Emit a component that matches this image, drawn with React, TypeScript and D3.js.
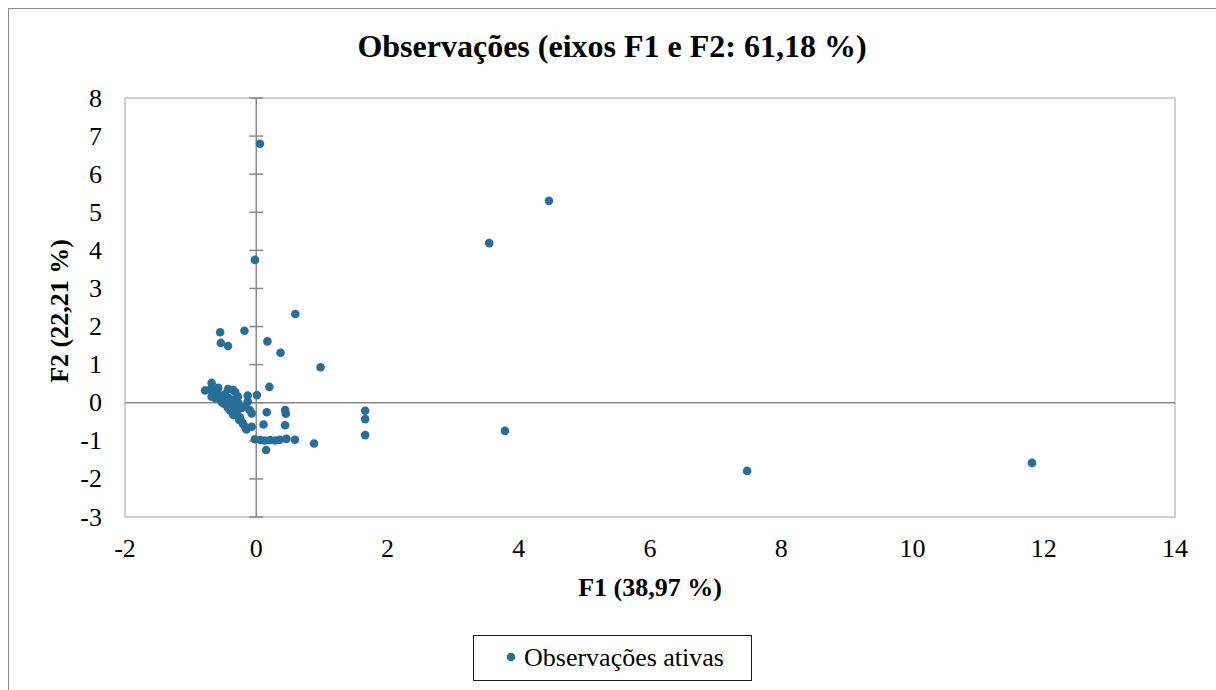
import React, { useEffect, useRef } from "react";
import * as d3 from "d3";

// F1 / F2 coordinates of the active observations
const f1 = [
  11.82, 7.48, 4.46, 3.55, 3.79, 1.66, 1.66, 1.66, 0.88, 0.98, 0.595, 0.37, 0.17, -0.18, -0.55, -0.54, -0.43, 0.057, -0.02, 0.2,
  0.16, 0.44, 0.45, 0.11, 0.44, 0.15,
  -0.02, 0.06, 0.13, 0.21, 0.29, 0.36, 0.46, 0.59,
  -0.78, -0.68, -0.63, -0.58, -0.48, -0.43, -0.35, -0.32, -0.28, -0.13, 0.01, -0.68, -0.6, -0.55, -0.53, -0.5, -0.45, -0.43,
  -0.4, -0.37, -0.35, -0.32, -0.3, -0.22, -0.13, -0.1, -0.07, -0.17, -0.22, -0.2, -0.17, -0.15, -0.07, -0.26, -0.7, -0.62,
  -0.57, -0.47, -0.42, -0.38, -0.27, -0.25,
];
const f2 = [
  -1.58, -1.79, 5.3, 4.19, -0.74, -0.21, -0.43, -0.85, -1.07, 0.93, 2.33, 1.31, 1.61, 1.89, 1.85, 1.57, 1.49, 6.8, 3.75, 0.415,
  -0.25, -0.19, -0.29, -0.57, -0.59, -1.24,
  -0.96, -0.98, -0.99, -0.98, -0.99, -0.97, -0.95, -0.97,
  0.32, 0.52, 0.3, 0.39, 0.22, 0.36, 0.33, 0.28, 0.16, 0.19, 0.2, 0.16, 0.25, 0.1, 0.03, -0.02, -0.08, -0.14,
  -0.2, 0.07, -0.32, -0.06, -0.25, -0.14, 0.03, -0.19, -0.28, -0.1, -0.5, -0.56, -0.63, -0.7, -0.63, -0.45, 0.35, 0.12,
  0.2, 0.05, 0.12, -0.1, -0.02, -0.38,
];
const xTicks = [-2, 0, 2, 4, 6, 8, 10, 12, 14];
const yTicks = [-3, -2, -1, 0, 1, 2, 3, 4, 5, 6, 7, 8];

const title = "Observações (eixos F1 e F2: 61,18 %)";
const xTitle = "F1 (38,97 %)";
const yTitle = "F2 (22,21 %)";
const seriesName = "Observações ativas";

const W = 1216;
const H = 690;
const dotColor = "#276f98";
const font = "'Liberation Serif', 'Times New Roman', serif";

const App = () => {
  const ref = useRef<SVGSVGElement>(null);

  useEffect(() => {
    if (!ref.current) return;
    const svg = d3.select(ref.current);
    svg.selectAll("*").remove();

    const left = 125, right = 1175, top = 98, bottom = 517;
    const x = d3.scaleLinear().domain([-2, 14]).range([left, right]);
    const y = d3.scaleLinear().domain([-3, 8]).range([bottom, top]);

    svg.append("rect").attr("width", W).attr("height", H).attr("fill", "white");
    // outer chart border (runs past the page)
    svg.append("rect")
      .attr("x", 8.5).attr("y", 8.5)
      .attr("width", W + 20).attr("height", H + 20)
      .attr("fill", "none").attr("stroke", "#8c8c8c").attr("stroke-width", 1);

    svg.append("text")
      .attr("x", 612).attr("y", 57)
      .attr("text-anchor", "middle")
      .style("font-family", font).style("font-weight", "bold").style("font-size", "32px")
      .text(title);

    // plot area border
    svg.append("rect")
      .attr("x", left).attr("y", top)
      .attr("width", right - left).attr("height", bottom - top)
      .attr("fill", "none").attr("stroke", "#c0c0c0").attr("stroke-width", 1.5);

    // axis lines crossing at 0
    svg.append("line")
      .attr("x1", left).attr("x2", right)
      .attr("y1", y(0)).attr("y2", y(0))
      .attr("stroke", "#898989").attr("stroke-width", 1.5);
    svg.append("line")
      .attr("x1", x(0)).attr("x2", x(0))
      .attr("y1", top).attr("y2", bottom)
      .attr("stroke", "#898989").attr("stroke-width", 1.5);
    svg.append("g").selectAll("line").data(yTicks).enter().append("line")
      .attr("x1", x(0) - 7).attr("x2", x(0) + 7)
      .attr("y1", (d) => y(d)).attr("y2", (d) => y(d))
      .attr("stroke", "#898989").attr("stroke-width", 1.5);

    // tick labels
    svg.append("g").selectAll("text").data(yTicks).enter().append("text")
      .attr("x", 102).attr("y", (d) => y(d))
      .attr("dy", "0.33em")
      .attr("text-anchor", "end")
      .style("font-family", font).style("font-size", "26px")
      .text((d) => d);
    svg.append("g").selectAll("text").data(xTicks).enter().append("text")
      .attr("x", (d) => x(d)).attr("y", 557)
      .attr("text-anchor", "middle")
      .style("font-family", font).style("font-size", "26px")
      .text((d) => d);

    // axis titles
    svg.append("text")
      .attr("x", 650).attr("y", 596)
      .attr("text-anchor", "middle")
      .style("font-family", font).style("font-weight", "bold").style("font-size", "26px")
      .text(xTitle);
    svg.append("text")
      .attr("transform", `translate(68, 311) rotate(-90)`)
      .attr("text-anchor", "middle")
      .style("font-family", font).style("font-weight", "bold").style("font-size", "26px")
      .text(yTitle);

    // points
    svg.append("g").selectAll("circle").data(d3.zip(f1, f2)).enter().append("circle")
      .attr("cx", (d) => x(d[0])).attr("cy", (d) => y(d[1]))
      .attr("r", 4.3).attr("fill", dotColor);

    // legend
    svg.append("rect")
      .attr("x", 473.5).attr("y", 635.5).attr("width", 278).attr("height", 45)
      .attr("fill", "white").attr("stroke", "#1a1a1a").attr("stroke-width", 1);
    svg.append("circle").attr("cx", 511).attr("cy", 657).attr("r", 4.3).attr("fill", dotColor);
    svg.append("text")
      .attr("x", 524).attr("y", 666)
      .style("font-family", font).style("font-size", "26px")
      .text(seriesName);
  }, []);

  return (
    <div style={{ position: "absolute", left: 0, top: 0, width: W, height: H, overflow: "hidden" }}>
      <svg ref={ref} width={W} height={H} style={{ display: "block" }} />
    </div>
  );
};

export default App;
